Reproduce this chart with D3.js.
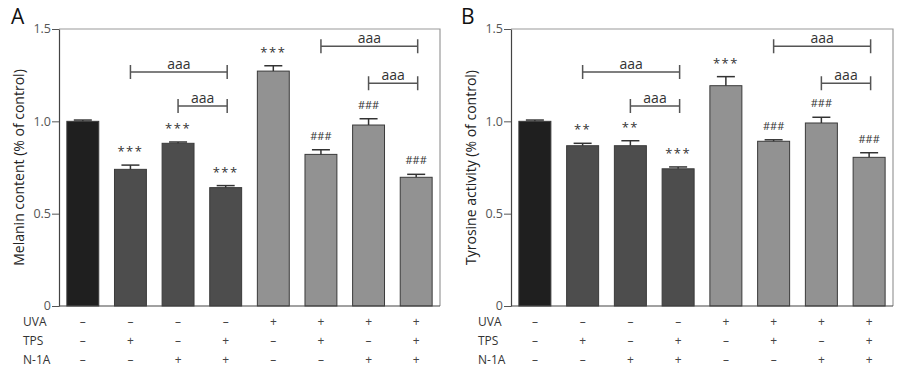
<!DOCTYPE html>
<html><head><meta charset="utf-8">
<script src="https://cdn.jsdelivr.net/npm/d3@7"></script>
<style>body{margin:0;background:#fff}svg{display:block}text{font-family:"Open Sans","DejaVu Sans",sans-serif}</style>
</head><body><svg id="c" width="900" height="378"></svg>
<script>
const groups = ["g1","g2","g3","g4","g5","g6","g7","g8"];
const barColors = ["#1f1f1f","#4d4d4d","#4d4d4d","#4d4d4d","#929292","#929292","#929292","#929292"];
const uvaRow = ["–","–","–","–","+","+","+","+"];
const tpsRow = ["–","+","–","+","–","+","–","+"];
const n1aRow = ["–","–","+","+","–","–","+","+"];
const rowNames = ["UVA","TPS","N-1A"];
const yTicks = [0, 0.5, 1.0, 1.5];
const yTickLabels = ["0","0.5","1.0","1.5"];

const melaninMean = [1.00, 0.74, 0.881, 0.641, 1.272, 0.821, 0.980, 0.697];
const melaninErr  = [0.007, 0.023, 0.007, 0.011, 0.029, 0.025, 0.034, 0.016];
const melaninSig  = ["", "***", "***", "***", "***", "###", "###", "###"];
const melaninBrackets = [[1,3,1.267],[2,3,1.083],[5,7,1.406],[6,7,1.206]];

const tyrMean = [1.00, 0.868, 0.868, 0.743, 1.193, 0.892, 0.991, 0.805];
const tyrErr  = [0.007, 0.013, 0.027, 0.010, 0.049, 0.008, 0.031, 0.025];
const tyrSig  = ["", "**", "**", "***", "***", "###", "###", "###"];
const tyrBrackets = [[1,3,1.267],[2,3,1.083],[5,7,1.406],[6,7,1.206]];

const svg = d3.select("#c");

function panel(opt){
  const g = svg.append("g");
  const x = d3.scaleBand().domain(groups).range([opt.x0, opt.x1]).paddingInner(0.33).paddingOuter(0.165);
  const y = d3.scaleLinear().domain([0,1.5]).range([306, 29]);
  g.append("path").attr("d",`M${opt.x0},${y(1.5)}H${opt.x1}V${y(0)}`).attr("fill","none").attr("stroke","#9a9a9a").attr("stroke-width",1.2);
  g.selectAll("rect.bar").data(opt.mean).join("rect")
    .attr("x",(d,i)=>x(groups[i])).attr("width",x.bandwidth())
    .attr("y",d=>y(d)).attr("height",d=>y(0)-y(d))
    .attr("fill",(d,i)=>barColors[i]).attr("stroke","#3a3a3a").attr("stroke-width",1);
  opt.mean.forEach((m,i)=>{
    const cx = x(groups[i]) + x.bandwidth()/2;
    const top = y(m+opt.err[i]);
    g.append("line").attr("x1",cx).attr("x2",cx).attr("y1",y(m)).attr("y2",top).attr("stroke","#333").attr("stroke-width",1.5);
    g.append("line").attr("x1",cx-9).attr("x2",cx+9).attr("y1",top).attr("y2",top).attr("stroke","#333").attr("stroke-width",1.5);
    if(opt.sig[i]){
      const star = opt.sig[i][0]==="*";
      g.append("text").attr("x",cx).attr("y",top-14 + (star?5:4)).attr("text-anchor","middle")
        .attr("font-size",star?13:11).attr("letter-spacing",star?1.5:0).attr("fill","#333").text(opt.sig[i]);
    }
  });
  opt.brackets.forEach(b=>{
    const xa = x(groups[b[0]]) + x.bandwidth()/2, xb = x(groups[b[1]]) + x.bandwidth()/2 + 1.5;
    const yy = y(b[2]);
    g.append("path").attr("d",`M${xa},${yy-7}V${yy+7}M${xa},${yy}H${xb}M${xb},${yy-7}V${yy+7}`)
      .attr("fill","none").attr("stroke","#555").attr("stroke-width",1.5);
    g.append("text").attr("x",(xa+xb)/2).attr("y",yy-3).attr("text-anchor","middle").attr("font-size",14).attr("fill","#333").text("aaa");
  });
  const ax = g.append("g").attr("transform",`translate(${opt.x0},0)`)
    .call(d3.axisLeft(y).tickValues(yTicks).tickFormat((d,i)=>yTickLabels[i]).tickSize(7).tickSizeOuter(0));
  ax.select(".domain").attr("stroke","#444").attr("stroke-width",1.2);
  ax.selectAll(".tick line").attr("stroke","#555");
  ax.selectAll(".tick text").attr("font-size",12.5).attr("fill","#555").attr("x",-8).attr("dy","0.3em").style("font-family","'Open Sans',sans-serif");
  g.append("line").attr("x1",opt.x0).attr("x2",opt.x1).attr("y1",y(0)).attr("y2",y(0)).attr("stroke","#444").attr("stroke-width",1.2);
  const rows=[uvaRow,tpsRow,n1aRow], rowY=[321,340.5,359.5];
  rows.forEach((r,ri)=>{
    g.append("text").attr("x",opt.labelX).attr("y",rowY[ri]).attr("dominant-baseline","central").attr("font-size",12).attr("fill","#333").text(rowNames[ri]);
    r.forEach((s,i)=>{
      g.append("text").attr("x",x(groups[i])+x.bandwidth()/2).attr("y",rowY[ri]).attr("dominant-baseline","central")
        .attr("text-anchor","middle").attr("font-size",12).attr("fill","#444").text(s);
    });
  });
  g.append("text").attr("transform",`translate(${opt.titleX},${(29+306)/2}) rotate(-90)`).attr("text-anchor","middle")
    .attr("dominant-baseline","central").attr("font-size",14).attr("font-weight",500).attr("fill","#222").text(opt.title);
  g.append("text").attr("x",opt.letterX).attr("y",24).attr("font-size",21).attr("fill","#111").text(opt.letter);
}

panel({x0:59,x1:440,mean:melaninMean,err:melaninErr,sig:melaninSig,brackets:melaninBrackets,labelX:23,titleX:18,title:"Melanin content (% of control)",letter:"A",letterX:11});
panel({x0:511,x1:893,mean:tyrMean,err:tyrErr,sig:tyrSig,brackets:tyrBrackets,labelX:478,titleX:470,title:"Tyrosine activity (% of control)",letter:"B",letterX:461});
</script></body></html>
